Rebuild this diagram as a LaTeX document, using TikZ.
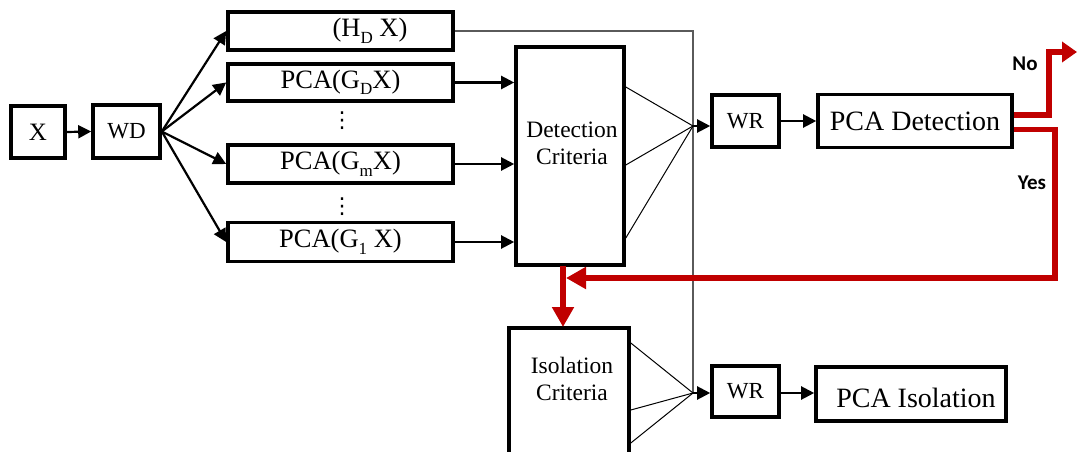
\documentclass[tikz,border=0pt]{standalone}
\usepackage{fontspec}
\setmainfont{Liberation Serif}
\newfontfamily\lblfont{Carlito}
\newfontfamily\dotfont{DejaVu Sans}
\usetikzlibrary{arrows.meta}
\definecolor{redline}{RGB}{192,0,0}
\definecolor{thingray}{RGB}{90,90,90}
\newcommand\mysub[1]{\raisebox{-0.25em}{\fontsize{17}{17}\selectfont #1}}
\begin{document}
\begin{tikzpicture}[x=1pt,y=-1pt,
  blk/.style={draw=black, line width=3.6pt, inner sep=0pt, fill=white},
  big/.style={font=\fontsize{26.5}{28}\selectfont},
  small/.style={font=\fontsize{23}{25}\selectfont},
  arr/.style={line width=2.2pt, -{Triangle[length=13pt,width=13pt]}},
  thinln/.style={line width=1pt},
  grayln/.style={line width=1.1pt, draw=thingray},
  redarr/.style={draw=redline, line width=5.5pt, -{Triangle[length=20pt,width=21pt]}},
  redarrb/.style={draw=redline, line width=5.5pt, -{Triangle[length=15pt,width=20pt]}},
  yn/.style={font=\lblfont\bfseries\fontsize{21}{23}\selectfont},
  dotstyle/.style={font=\dotfont\fontsize{22}{22}\selectfont, inner sep=0pt}
]
\useasboundingbox (0,0) rectangle (1077,452);

% left boxes
\node[blk, minimum width=54pt, minimum height=52pt, font=\fontsize{25}{27}\selectfont] (x) at (38,132) {X};
\node[blk, small, minimum width=67pt, minimum height=53pt] (wd) at (126.5,131.5) {WD};

\node[blk, minimum width=225pt, minimum height=38pt] (hd) at (340.5,31) {};
\node[big] (hdt) at (370,31) {(H\mysub{D} X)};
\node[blk, big, minimum width=225pt, minimum height=37pt] (gd) at (340.5,82.5) {PCA(G\mysub{D}X)};
\node[dotstyle] (dots1) at (342,121) {⋮};
\node[blk, big, minimum width=225pt, minimum height=38pt] (gm) at (340.5,164) {PCA(G\mysub{m}X)};
\node[dotstyle] (dots2) at (342,207) {⋮};
\node[blk, big, minimum width=225pt, minimum height=39pt] (g1) at (340.5,242) {PCA(G\mysub{1} X)};

% criteria boxes
\node[blk, minimum width=108pt, minimum height=218pt] (dc) at (570,156) {};
\node[align=center, font=\fontsize{23.5}{27}\selectfont] (dct) at (572,143) {Detection\\Criteria};
\node[blk, minimum width=120pt, minimum height=130pt] (ic) at (569,393) {};
\node[align=center, font=\fontsize{23.5}{27}\selectfont] (ict) at (572,379) {Isolation\\Criteria};

% right boxes
\node[blk, small, minimum width=67pt, minimum height=52pt] (wr1) at (745.5,121) {WR};
\node[blk, minimum width=194pt, minimum height=53pt, font=\fontsize{28}{30}\selectfont] (pcad) at (915,121) {PCA Detection};
\node[blk, small, minimum width=67pt, minimum height=51pt] (wr2) at (745.5,391.5) {WR};
\node[blk, minimum width=190pt, minimum height=54pt] (pcai) at (911,394) {};
\node[font=\fontsize{28}{30}\selectfont] (pcait) at (916,398) {PCA Isolation};

% coordinates
\coordinate (c1) at (693,126);
\coordinate (c2) at (693,393);
\coordinate (noend) at (1077,52);
\coordinate (redjoin) at (566,278);
\coordinate (rtop) at (563,266);
\coordinate (rbot) at (563,327);

% black arrows
\draw[arr] (x.east) -- (wd.west);
\draw[arr] (wd.east) -- (hd.west);
\draw[arr] (wd.east) -- (gd.west);
\draw[arr] (wd.east) -- (gm.west);
\draw[arr] (wd.east) -- (g1.west);
\draw[arr] (gd.east) -- (gd.east -| dc.west);
\draw[arr] (gm.east) -- (gm.east -| dc.west);
\draw[arr] (g1.east) -- (g1.east -| dc.west);

% thin gray bypass line
\draw[grayln] (hd.east) -- (hd.east -| c1) -- (c2);

% converging lines
\draw[thinln] (dc.east |- 0,87) -- (c1);
\draw[thinln] (dc.east |- 0,165) -- (c1);
\draw[thinln] (dc.east |- 0,238) -- (c1);
\draw[arr] (c1) -- (c1 -| wr1.west);
\draw[thinln] (ic.east |- 0,343) -- (c2);
\draw[thinln] (ic.east |- 0,410) -- (c2);
\draw[thinln] (ic.east |- 0,443) -- (c2);
\draw[arr] (c2) -- (c2 -| wr2.west);

\draw[arr] (wr1.east) -- (pcad.west);
\draw[arr] (wr2.east |- c2) -- (c2 -| pcai.west);

% red paths
\draw[redarrb] ([yshift=6pt]pcad.east) -- ++(35,0) |- (noend);
\draw[redarr] ([yshift=-8.5pt]pcad.east) -- ++(41,0) |- (redjoin);
\draw[redarr] (rtop) -- (rbot);

% labels
\node[yn] (no) at (1025,64) {No};
\node[yn] (yes) at (1032,183) {Yes};
\end{tikzpicture}
\end{document}
